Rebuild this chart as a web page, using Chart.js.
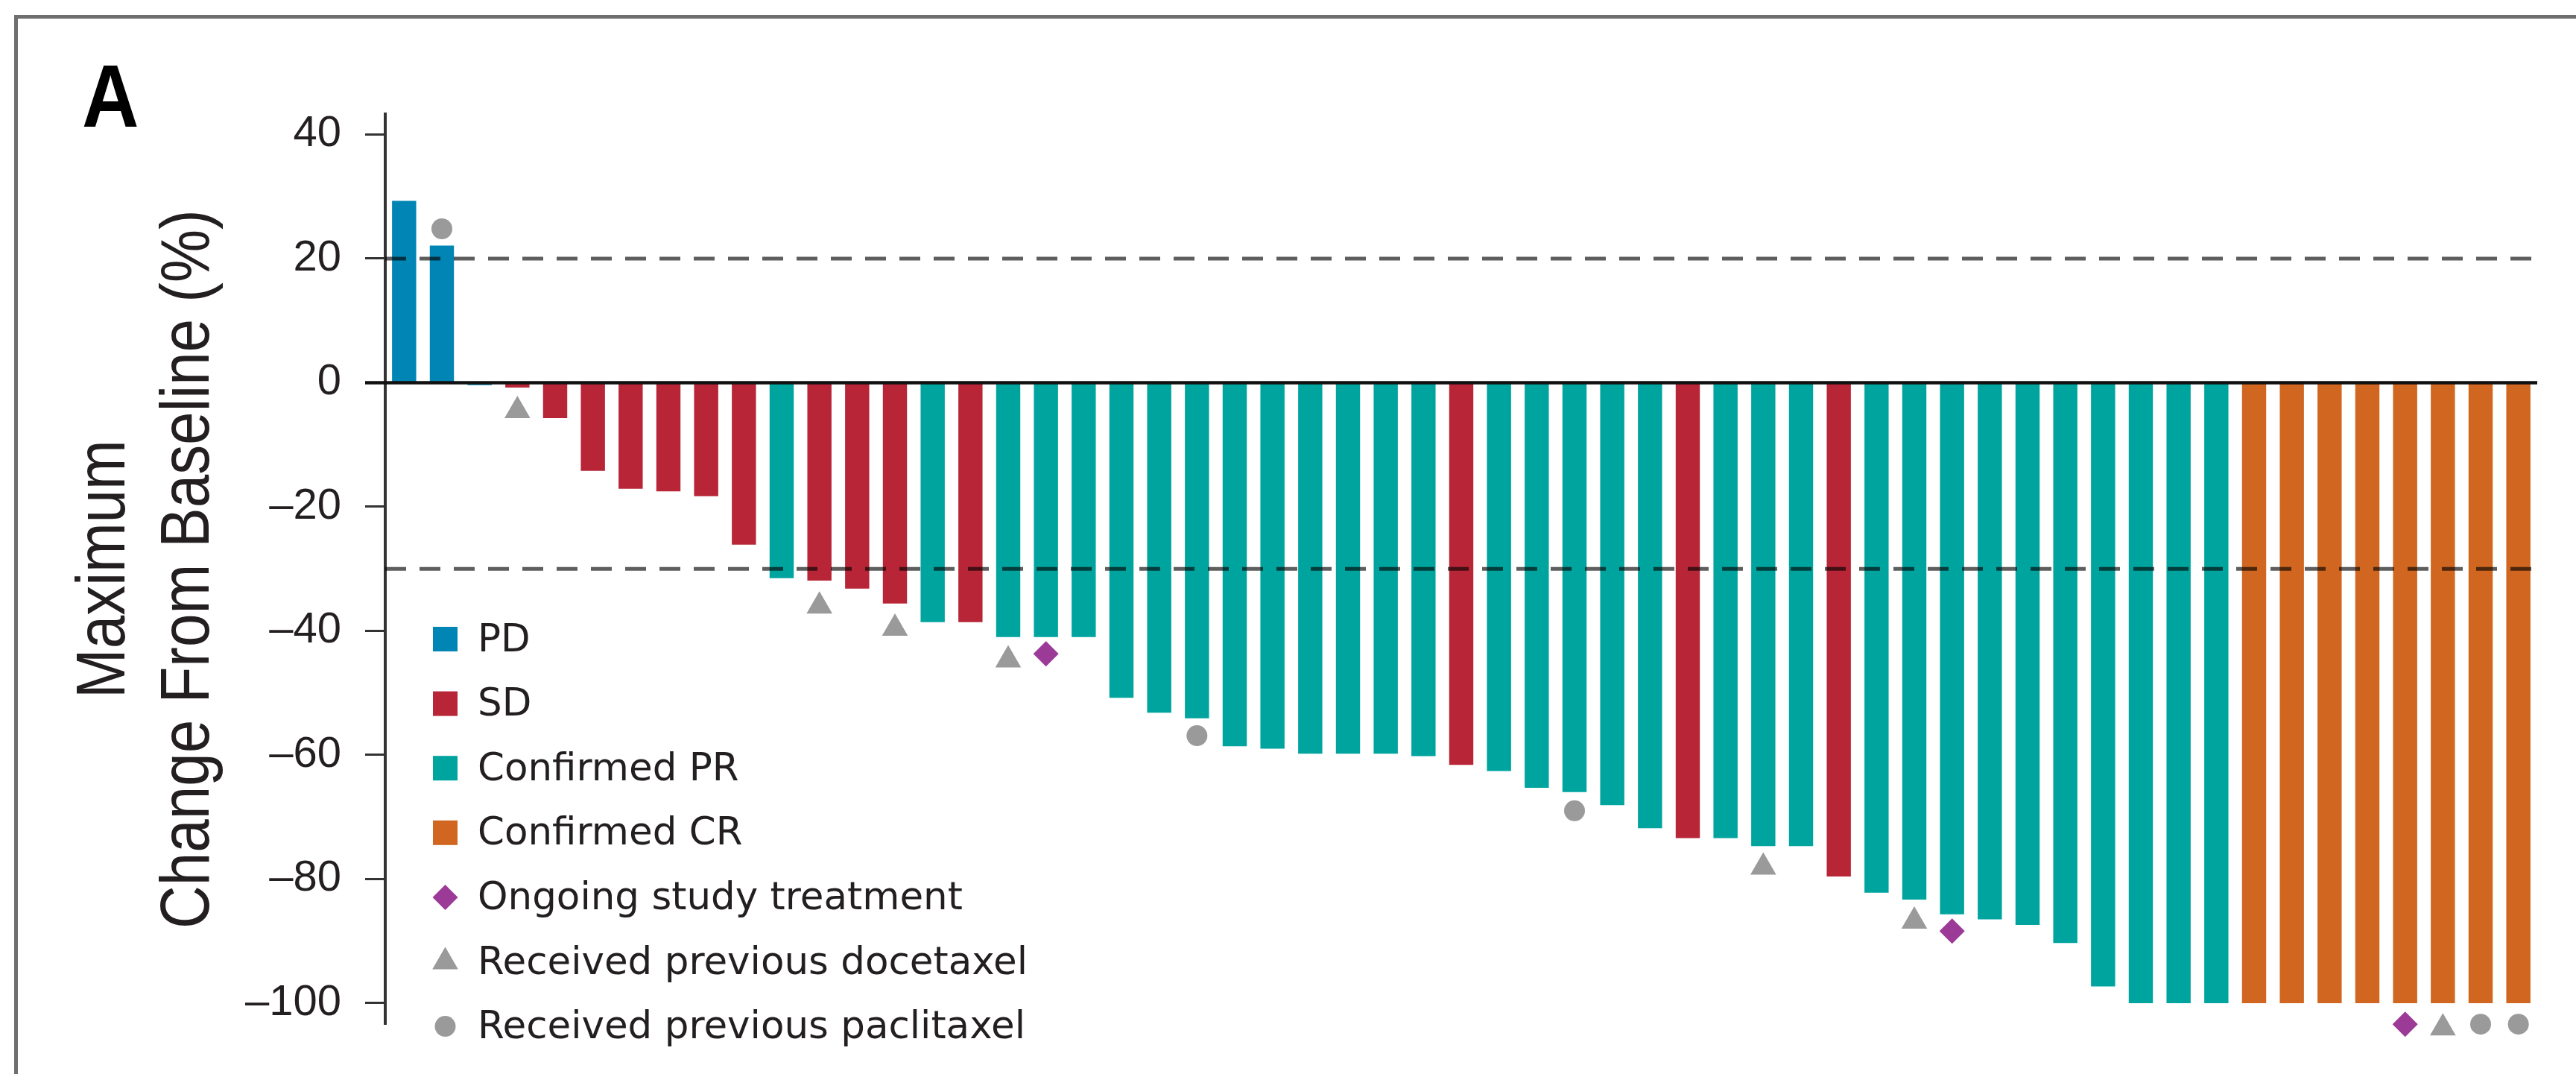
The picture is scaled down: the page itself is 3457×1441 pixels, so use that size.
<!DOCTYPE html>
<html>
<head>
<meta charset="utf-8">
<script src="https://cdn.jsdelivr.net/npm/chart.js@4.4.1/dist/chart.umd.min.js"></script>
<style>
html,body{margin:0;padding:0;background:#fff;overflow:hidden}
canvas{display:block}
</style>
</head>
<body>
<canvas id="c" width="3457" height="1441"></canvas>
<script>
// ---------------- DATA ----------------
const patients = ['1','2','3','4','5','6','7','8','9','10',
  '11','12','13','14','15','16','17','18','19','20',
  '21','22','23','24','25','26','27','28','29','30',
  '31','32','33','34','35','36','37','38','39','40',
  '41','42','43','44','45','46','47','48','49','50',
  '51','52','53','54','55','56','57'];

const changeFromBaseline = [29.3, 22.1, -0.4, -0.8, -5.7, -14.2, -17.1, -17.5, -18.3, -26.1,
  -31.5, -31.9, -33.2, -35.6, -38.6, -38.6, -41.0, -41.0, -41.0, -50.8,
  -53.2, -54.1, -58.6, -59.0, -59.8, -59.8, -59.8, -60.2, -61.6, -62.6,
  -65.3, -66.0, -68.1, -71.8, -73.4, -73.4, -74.7, -74.7, -79.6, -82.2,
  -83.3, -85.7, -86.5, -87.4, -90.3, -97.3, -100, -100, -100, -100,
  -100, -100, -100, -100, -100, -100, -100];

const bestResponse = ['PD','PD','PD','SD','SD','SD','SD','SD','SD','SD',
  'PR','SD','SD','SD','PR','SD','PR','PR','PR','PR',
  'PR','PR','PR','PR','PR','PR','PR','PR','SD','PR',
  'PR','PR','PR','PR','SD','PR','PR','PR','SD','PR',
  'PR','PR','PR','PR','PR','PR','PR','PR','PR','CR',
  'CR','CR','CR','CR','CR','CR','CR'];

const responseKeys = ['PD', 'SD', 'PR', 'CR'];
const responseLabels = ['PD', 'SD', 'Confirmed PR', 'Confirmed CR'];

// annotation markers: patient number and plotted y value
const ongoingPatients = [18, 42, 54];
const ongoingY = [-43.7, -88.4, -103.4];
const docetaxelPatients = [4, 12, 14, 17, 37, 41, 55];
const docetaxelY = [-4.5, -36.0, -39.6, -44.7, -78.1, -86.8, -104.0];
const paclitaxelPatients = [2, 22, 32, 56, 57];
const paclitaxelY = [24.8, -56.9, -69.0, -103.4, -103.4];
const markerLabels = ['Ongoing study treatment', 'Received previous docetaxel', 'Received previous paclitaxel'];

const thresholds = [20, -30];
const yTicks = [40, 20, 0, -20, -40, -60, -80, -100];
const yTickLabels = ['40', '20', '0', '\u201320', '\u201340', '\u201360', '\u201380', '\u2013100'];
const yTitle = ['Maximum', 'Change From Baseline (%)'];
const panelLabel = 'A';

// ---------------- STYLE ----------------
const barColors = { PD: '#0085b4', SD: '#b72537', PR: '#00a49f', CR: '#d0661f' };
const markerColor = { ongoing: '#9c3a97', doc: '#9a9a9a', pac: '#9a9a9a' };
const TEXT = '#231f20';

function markerData(idx, ys) {
  const d = patients.map(() => null);
  idx.forEach((p, k) => { d[p - 1] = ys[k]; });
  return d;
}

const barSets = responseKeys.map((k, j) => ({
  type: 'bar',
  label: responseLabels[j],
  data: changeFromBaseline.map((v, i) => bestResponse[i] === k ? v : null),
  backgroundColor: barColors[k],
  borderWidth: 0,
  grouped: false,
  barPercentage: 0.64,
  categoryPercentage: 1,
  order: 2,
  _legend: { kind: 'box', color: barColors[k] }
}));

function markerSet(label, data, style, radius, color) {
  return {
    type: 'line',
    label: label,
    data: data,
    showLine: false,
    pointStyle: style,
    pointRadius: radius,
    pointHoverRadius: radius,
    pointBackgroundColor: color,
    pointBorderWidth: 0,
    borderWidth: 0,
    clip: false,
    order: 1,
    _legend: { kind: 'point', style: style, radius: radius, color: color }
  };
}

const markerSets = [
  markerSet(markerLabels[0], markerData(ongoingPatients, ongoingY), 'rectRot', 17, markerColor.ongoing),
  markerSet(markerLabels[1], markerData(docetaxelPatients, docetaxelY), 'triangle', 20, markerColor.doc),
  markerSet(markerLabels[2], markerData(paclitaxelPatients, paclitaxelY), 'circle', 14, markerColor.pac)
];

// ---------------- PLUGINS ----------------
const framePlugin = {
  id: 'frame',
  beforeDraw(chart) {
    const ctx = chart.ctx;
    ctx.save();
    ctx.fillStyle = '#ffffff';
    ctx.fillRect(0, 0, chart.width, chart.height);
    ctx.strokeStyle = '#6f6f6f';
    ctx.lineWidth = 5;
    ctx.beginPath();
    ctx.moveTo(chart.width + 10, 22.5);
    ctx.lineTo(21.5, 22.5);
    ctx.lineTo(21.5, chart.height + 10);
    ctx.stroke();
    ctx.restore();
  }
};

const refLinesPlugin = {
  id: 'refLines',
  afterDatasetsDraw(chart) {
    const ctx = chart.ctx, y = chart.scales.y, a = chart.chartArea;
    ctx.save();
    // dashed response thresholds
    ctx.globalCompositeOperation = 'multiply';
    ctx.strokeStyle = '#5e5e5e';
    ctx.lineWidth = 5;
    ctx.setLineDash([28, 18]);
    thresholds.forEach(t => {
      const py = y.getPixelForValue(t);
      ctx.beginPath();
      ctx.moveTo(a.left, py);
      ctx.lineTo(a.right, py);
      ctx.stroke();
    });
    ctx.globalCompositeOperation = 'source-over';
    // zero line over the bars
    ctx.setLineDash([]);
    ctx.strokeStyle = '#111111';
    ctx.lineWidth = 4.5;
    const z = y.getPixelForValue(0);
    ctx.beginPath();
    ctx.moveTo(a.left - 27, z);
    ctx.lineTo(a.right, z);
    ctx.stroke();
    ctx.restore();
  }
};

const annotPlugin = {
  id: 'annot',
  afterDraw(chart) {
    const ctx = chart.ctx, a = chart.chartArea;
    const cy = (a.top + a.bottom) / 2;
    ctx.save();
    ctx.fillStyle = TEXT;
    // y-axis title (two lines, rotated)
    ctx.font = '93px "Liberation Sans", Arial, sans-serif';
    ctx.textAlign = 'center';
    ctx.textBaseline = 'alphabetic';
    const baselines = [167, 280];
    yTitle.forEach((t, i) => {
      ctx.save();
      ctx.translate(baselines[i], cy);
      ctx.rotate(-Math.PI / 2);
      ctx.scale(0.86, 1);
      ctx.fillText(t, 0, 0);
      ctx.restore();
    });
    // panel letter
    ctx.save();
    ctx.font = 'bold 119px "Liberation Sans", Arial, sans-serif';
    ctx.textAlign = 'left';
    ctx.translate(110, 170);
    ctx.scale(0.89, 1);
    ctx.fillStyle = '#000';
    ctx.fillText(panelLabel, 0, 0);
    ctx.restore();

    // legend
    const x0 = 581, sq = 33, rowStart = 857.5, rowStep = 86.6;
    ctx.font = '51.5px "DejaVu Sans", sans-serif';
    ctx.textAlign = 'left';
    chart.data.datasets.forEach((ds, i) => {
      const ry = rowStart + i * rowStep;
      const lg = ds._legend;
      ctx.fillStyle = lg.color;
      if (lg.kind === 'box') {
        ctx.fillRect(x0, ry - sq / 2, sq, sq);
      } else {
        const opts = { pointStyle: lg.style, radius: lg.radius, rotation: 0, borderWidth: 0 };
        if (Chart.helpers && Chart.helpers.drawPoint) {
          Chart.helpers.drawPoint(ctx, opts, x0 + sq / 2, ry);
        } else {
          ctx.beginPath();
          ctx.arc(x0 + sq / 2, ry, lg.radius, 0, Math.PI * 2);
          ctx.fill();
        }
      }
      ctx.fillStyle = TEXT;
      ctx.fillText(ds.label, 641, ry + 16);
    });
    ctx.restore();
  }
};

// ---------------- CHART ----------------
new Chart(document.getElementById('c'), {
  type: 'bar',
  data: {
    labels: patients,
    datasets: barSets.concat(markerSets)
  },
  options: {
    responsive: false,
    animation: false,
    devicePixelRatio: 1,
    events: [],
    layout: { padding: { top: 153, right: 52, bottom: 56, left: 0 } },
    plugins: {
      legend: { display: false },
      tooltip: { enabled: false },
      title: { display: false }
    },
    scales: {
      x: {
        type: 'category',
        display: false,
        offset: true,
        grid: { display: false }
      },
      y: {
        min: -103.4,
        max: 43.3,
        afterFit(s) { s.width = 517; },
        afterBuildTicks(s) { s.ticks = yTicks.map(v => ({ value: v })); },
        ticks: {
          callback: (v) => yTickLabels[yTicks.indexOf(v)],
          font: { family: '"Liberation Sans", Arial, sans-serif', size: 58 },
          color: TEXT,
          padding: 32
        },
        grid: {
          drawOnChartArea: false,
          drawTicks: true,
          tickLength: 27,
          tickWidth: 3,
          tickColor: '#333'
        },
        border: { display: true, color: '#333', width: 4 }
      }
    }
  },
  plugins: [framePlugin, refLinesPlugin, annotPlugin]
});
</script>
</body>
</html>
